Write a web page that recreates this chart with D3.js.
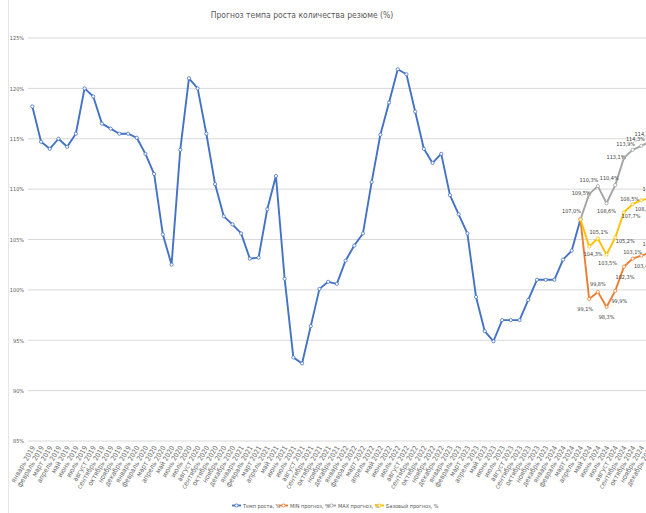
<!DOCTYPE html>
<html>
<head>
<meta charset="utf-8">
<script src="https://cdn.jsdelivr.net/npm/d3@7"></script>
<style>
body {margin:0; overflow:hidden; background:#fff;}
#chart {width:646px; height:513px; overflow:hidden;}
text {font-family:"Liberation Sans Narrow","DejaVu Sans Condensed",sans-serif;}
</style>
</head>
<body>
<div id="chart"></div>
<script>
//Month names and years for the category axis
var monthNames=["январь","февраль","март","апрель","май","июнь","июль","август","сентябрь","октябрь","ноябрь","декабрь"];
var years=[2019,2020,2021,2022,2023,2024];

//Fact growth rate, % (январь 2019 - апрель 2024)
var fact=[118.2,114.7,114.0,115.0,114.2,115.5,120.0,119.2,116.5,116.0,115.5,115.5,
          115.1,113.5,111.5,105.5,102.5,113.9,121.0,120.0,115.5,110.5,107.3,106.5,
          105.6,103.1,103.2,108.0,111.3,101.1,93.3,92.7,96.4,100.1,100.8,100.6,
          102.9,104.4,105.6,110.7,115.4,118.6,121.9,121.4,117.7,114.0,112.6,113.5,
          109.4,107.5,105.6,99.3,95.9,94.9,97.0,97.0,97.0,99.0,101.0,101.0,
          101.0,103.0,103.9,107.0];

//Forecasts, апрель 2024 - декабрь 2024
var minForecast=[107.0,99.1,99.8,98.3,99.9,102.3,103.1,103.4,103.7];
var maxForecast=[107.0,109.5,110.3,108.6,110.4,113.1,113.9,114.3,114.7];
var baseForecast=[107.0,104.3,105.1,103.5,105.2,107.7,108.5,108.9,109.1];

var yTicks=[85,90,95,100,105,110,115,120,125];

//Label offsets for the forecast points (dx,dy), null = no label
var minLabelPos=[null,[-4,10],[0,-8],[0,10],[4,10],[1,10],[0,-7],[2,10],[2,-9]];
var maxLabelPos=[[-9,-8],[-8,-1],[-9,-6],[0,8],[-6,-7],[-8,-1],[-7,-6],[-6,-7],[-6,-8]];
var baseLabelPos=[null,[4,7],[1,-6],[1,8],[10,4],[7,4],[-3,-5],[3,9],[2,-9]];

var categories=[];
years.forEach(function(y) {
    monthNames.forEach(function(m) {categories.push(m+" "+y);});
});

var w=670, h=513;
var left=28, right=28+72*8.7;

var svg=d3.select("#chart").append("svg")
          .attr("width",w)
          .attr("height",h);

var x=d3.scaleBand().domain(categories).range([left,right]);
var y=d3.scaleLinear().domain([85,125]).range([441,38]);
var cx=function(c) {return x(c)+x.bandwidth()/2;};

//Chart border on the left
svg.append("line")
   .attr("x1",8.5).attr("x2",8.5).attr("y1",0).attr("y2",h)
   .style("stroke","#e6e6e6");

//Title
svg.append("text")
   .text("Прогноз темпа роста количества резюме (%)")
   .attr("x",302)
   .attr("y",18)
   .attr("text-anchor","middle")
   .style("font-size","8.5px")
   .style("fill","#595959");

//Gridlines
svg.append("g").selectAll("line")
   .data(yTicks).enter()
   .append("line")
   .attr("x1",left).attr("x2",w)
   .attr("y1",function(d) {return y(d);})
   .attr("y2",function(d) {return y(d);})
   .style("stroke","#d9d9d9")
   .style("stroke-width",1);

//Y axis labels
var yAxis=d3.axisLeft(y).tickValues(yTicks).tickSize(0).tickPadding(4)
            .tickFormat(function(d) {return d+"%";});
var gy=svg.append("g").attr("transform","translate("+left+",0)").call(yAxis);
gy.select(".domain").remove();
gy.selectAll("text").style("font-size","5.5px").style("fill","#595959")
  .style("font-family","'Liberation Sans Narrow','DejaVu Sans Condensed',sans-serif");

//X axis labels
var xAxis=d3.axisBottom(x).tickSize(0).tickPadding(0);
var gx=svg.append("g").attr("transform","translate(0,448)").call(xAxis);
gx.select(".domain").remove();
gx.selectAll("text")
  .attr("y",0).attr("x",2).attr("dy","0.35em")
  .attr("text-anchor","end")
  .attr("transform","rotate(-60)")
  .style("font-size","7px")
  .style("fill","#6b6b6b")
  .style("font-family","'Liberation Sans Narrow','DejaVu Sans Condensed',sans-serif");

var line=d3.line()
           .x(function(d) {return cx(d.c);})
           .y(function(d) {return y(d.v);});

function toPoints(values,start) {
    return values.map(function(v,i) {return {c:categories[start+i],v:v,i:i};});
}

var series=[
    {name:"Темп роста, %",color:"#4472C4",pts:toPoints(fact,0),labels:null},
    {name:"MIN прогноз, %",color:"#ED7D31",pts:toPoints(minForecast,63),labels:minLabelPos},
    {name:"MAX прогноз, %",color:"#A5A5A5",pts:toPoints(maxForecast,63),labels:maxLabelPos},
    {name:"Базовый прогноз, %",color:"#FFC000",pts:toPoints(baseForecast,63),labels:baseLabelPos}
];

var fmt=d3.format(".1f");

series.forEach(function(s) {
    var g=svg.append("g");
    g.append("path")
     .datum(s.pts)
     .attr("d",line)
     .style("fill","none")
     .style("stroke",s.color)
     .style("stroke-width",1.9)
     .style("stroke-linejoin","round");
    g.selectAll("circle")
     .data(s.pts).enter()
     .append("circle")
     .attr("cx",function(d) {return cx(d.c);})
     .attr("cy",function(d) {return y(d.v);})
     .attr("r",1.6)
     .style("fill","#fff")
     .style("stroke",s.color)
     .style("stroke-width",0.8);
});

//Data labels for forecasts
series.forEach(function(s) {
    if (!s.labels) return;
    svg.append("g").selectAll("text")
       .data(s.pts.filter(function(d) {return s.labels[d.i];}))
       .enter()
       .append("text")
       .text(function(d) {return fmt(d.v).replace(".",",")+"%";})
       .attr("x",function(d) {return cx(d.c)+s.labels[d.i][0];})
       .attr("y",function(d) {return y(d.v)+s.labels[d.i][1];})
       .attr("text-anchor","middle")
       .attr("dominant-baseline","central")
       .style("font-size","5.5px")
       .style("fill","#404040");
});

//Legend
var legendX=[232,279,327,375];
var legend=svg.append("g").selectAll("g")
              .data(series).enter()
              .append("g")
              .attr("transform",function(d,i) {return "translate("+legendX[i]+",505.5)";});
legend.append("line")
      .attr("x1",0).attr("x2",9)
      .style("stroke",function(d) {return d.color;})
      .style("stroke-width",1.9);
legend.append("circle")
      .attr("cx",4.5).attr("r",1.6)
      .style("fill","#fff")
      .style("stroke",function(d) {return d.color;})
      .style("stroke-width",0.8);
legend.append("text")
      .text(function(d) {return d.name;})
      .attr("x",11)
      .attr("dominant-baseline","central")
      .style("font-size","5.5px")
      .style("fill","#595959");
</script>
</body>
</html>
